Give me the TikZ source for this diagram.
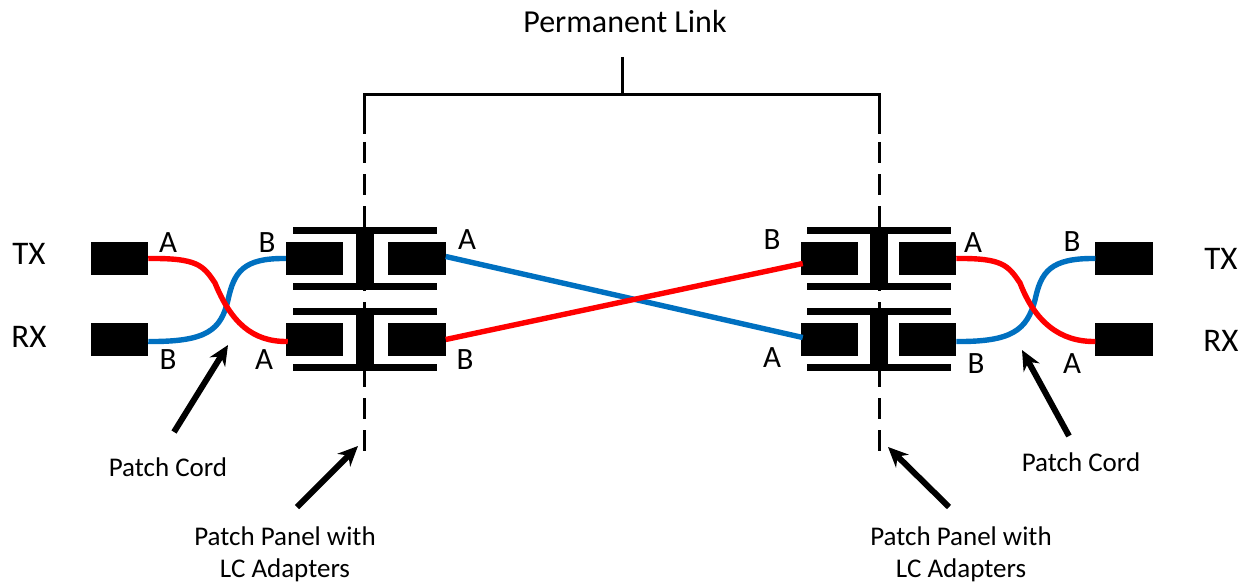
\documentclass[tikz,border=0pt]{standalone}
\usepackage{fontspec}
\setmainfont{Carlito}
\usetikzlibrary{arrows.meta}
\definecolor{cordred}{RGB}{255,0,0}
\definecolor{cordblue}{RGB}{0,112,192}
\tikzset{
    plug/.style={rectangle,fill=black,inner sep=0pt,outer sep=0pt,minimum width=57.5pt,minimum height=33pt},
    flange/.style={rectangle,fill=black,inner sep=0pt,outer sep=0pt,minimum width=144pt,minimum height=7.5pt},
    web/.style={rectangle,fill=black,inner sep=0pt,outer sep=0pt,minimum width=18pt,minimum height=50pt},
    cord/.style={line width=5.4pt},
    leader/.style={line width=6pt,-{Stealth[length=20pt,width=18pt]}},
    bracket/.style={line width=3pt},
    pinlabel/.style={font=\fontsize{31}{31}\selectfont,inner sep=0pt},
    sidelabel/.style={font=\fontsize{33}{33}\selectfont,inner sep=0pt},
    note/.style={font=\fontsize{27}{32}\selectfont,align=center,inner sep=0pt}
}
\begin{document}
\begin{tikzpicture}[x=1pt,y=-1pt]
    \useasboundingbox (0,0) rectangle (1245,583);
    % bracket and panel lines
    \node[font=\fontsize{32}{32}\selectfont,inner sep=0pt] (link) at (625,22) {Permanent Link};
    \coordinate (stem) at (622,57);
    \coordinate (stemfoot) at (622,95);
    \coordinate (leftcorner) at (364.5,95);
    \coordinate (rightcorner) at (879,95);
    \draw[bracket] (364.5,134) -- (leftcorner) -- (rightcorner) -- (879,134);
    \draw[bracket] (stem) -- (stemfoot);
    \draw[bracket,dash pattern=on 21pt off 11pt] (364.5,142) -- (364.5,451);
    \draw[bracket,dash pattern=on 21pt off 11pt] (879,142) -- (879,451);
    % adapters
    \foreach \panel/\px/\dl/\dr in {L/364.5/-50/52.5,R/879/-49.5/48.5}
        \foreach \row/\py in {T/258.5,B/339.5}
        {
            \node[plug] (plug\panel\row a) at (\px+\dl,\py) {};
            \node[plug] (plug\panel\row b) at (\px+\dr,\py) {};
            \node[web] (web\panel\row) at (\px,\py) {};
            \node[flange] (top\panel\row) at (\px,\py-28) {};
            \node[flange] (bot\panel\row) at (\px,\py+28) {};
        }
    % end connectors
    \node[plug] (txL) at (119.5,258.5) {};
    \node[plug] (rxL) at (119.5,339.5) {};
    \node[plug] (txR) at (1124,258.5) {};
    \node[plug] (rxR) at (1124,339.5) {};
    % permanent link fibres
    \draw[cord,cordblue] ([yshift=2pt]plugLTb.east) -- ([xshift=2pt,yshift=2pt]plugRBa.west);
    \draw[cord,cordred] (plugLBb.east) -- ([xshift=2pt,yshift=-5pt]plugRTa.west);
    % patch cords
    \draw[cord,cordblue] ([yshift=-2pt]rxL.east) .. controls (207,342) and (221,330) .. (228,300)
        .. controls (234,272) and (243,258) .. (plugLTa.west);
    \draw[cord,cordred] (txL.east) .. controls (197,258) and (203,265) .. (215,283)
        .. controls (231,322) and (252,342) .. ([xshift=2pt,yshift=-2pt]plugLBa.west);
    \draw[cord,cordblue] ([yshift=-2pt]plugRBb.east) .. controls (1012,342) and (1027,330) .. (1035,300)
        .. controls (1041,272) and (1050,258) .. (txR.west);
    \draw[cord,cordred] (plugRTb.east) .. controls (1002,258) and (1008,265) .. (1020,283)
        .. controls (1035,322) and (1060,342) .. ([yshift=-2pt]rxR.west);
    % side labels
    \node[sidelabel] (txleft) at (29,254) {TX};
    \node[sidelabel] (rxleft) at (29,337) {RX};
    \node[sidelabel] (txright) at (1221,259) {TX};
    \node[sidelabel] (rxright) at (1221,341) {RX};
    % fibre ends
    \foreach \x/\y/\pin in {168/243/A,168/360/B,267/243/B,264/360/A,467/240/A,465/360/B,
        772/240/B,772/358/A,973/243/A,976/364/B,1072/242/B,1072/364/A}
        \node[pinlabel] (pin\x) at (\x,\y) {\pin};
    % notes and their arrows
    \node[note] (cordleft) at (168,467) {Patch Cord};
    \node[note] (cordright) at (1081,462) {Patch Cord};
    \node[note] (panelleft) at (285,554) {Patch Panel with\\LC Adapters};
    \node[note] (panelright) at (961,554) {Patch Panel with\\LC Adapters};
    \coordinate (cordlefttail) at (174,432);
    \coordinate (cordlefttip) at (228,345);
    \coordinate (cordrighttail) at (1069,436);
    \coordinate (cordrighttip) at (1022,350);
    \coordinate (panellefttail) at (297,507);
    \coordinate (panellefttip) at (358,446);
    \coordinate (panelrighttail) at (949,507);
    \coordinate (panelrighttip) at (888,447);
    \draw[leader] (cordlefttail) -- (cordlefttip);
    \draw[leader] (cordrighttail) -- (cordrighttip);
    \draw[leader] (panellefttail) -- (panellefttip);
    \draw[leader] (panelrighttail) -- (panelrighttip);
\end{tikzpicture}
\end{document}
